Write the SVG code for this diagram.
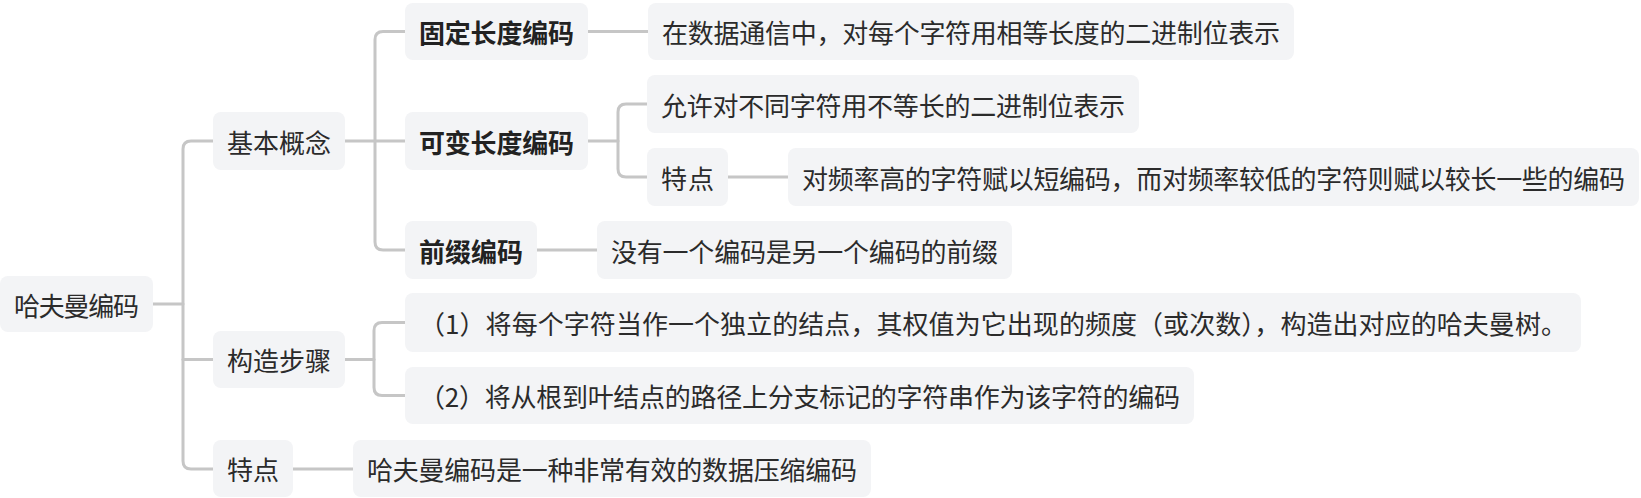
<svg xmlns="http://www.w3.org/2000/svg" width="1641" height="498" viewBox="0 0 1641 498">
<style>
.box{fill:#f3f4f6;}
.t{font-family:"Noto Sans CJK SC","Noto Sans",sans-serif;font-size:26px;fill:#2b2b2b;dominant-baseline:central;}
.b{font-weight:bold;fill:#222;}
.c{fill:none;stroke:#c6c6c6;stroke-width:3;stroke-linecap:round;stroke-linejoin:round;}
</style>
<rect width="1641" height="498" fill="#ffffff"/>
<g id="connectors">
<path class="c" d="M153,304 H183"/>
<path class="c" d="M213,141 H191 Q183,141 183,149 V461 Q183,469 191,469 H213"/>
<path class="c" d="M183,359.5 H213"/>
<path class="c" d="M345,141 H405"/>
<path class="c" d="M405,31.5 H383 Q375,31.5 375,39.5 V242 Q375,250 383,250 H405"/>
<path class="c" d="M345,359.5 H374"/>
<path class="c" d="M405,322.5 H382 Q374,322.5 374,330.5 V387.5 Q374,395.5 382,395.5 H405"/>
<path class="c" d="M293,469 H353"/>
<path class="c" d="M588,31.5 H648"/>
<path class="c" d="M588,141 H618"/>
<path class="c" d="M647,104 H626 Q618,104 618,112 V169 Q618,177 626,177 H647"/>
<path class="c" d="M728,177 H788"/>
<path class="c" d="M537,250 H597"/>
</g>
<g id="root"><rect class="box" x="0" y="276" width="153" height="56" rx="8"/><text class="t" x="14" y="304" textLength="125" lengthAdjust="spacing">哈夫曼编码</text></g>
<g id="n-jiben"><rect class="box" x="213" y="112" width="132" height="58" rx="8"/><text class="t" x="227" y="141" textLength="104" lengthAdjust="spacing">基本概念</text></g>
<g id="n-gouzao"><rect class="box" x="213" y="331" width="132" height="57" rx="8"/><text class="t" x="227" y="359.5" textLength="104" lengthAdjust="spacing">构造步骤</text></g>
<g id="n-tedian1"><rect class="box" x="213" y="440" width="80" height="57" rx="8"/><text class="t" x="227" y="468.5" textLength="52" lengthAdjust="spacing">特点</text></g>
<g id="n-guding"><rect class="box" x="405" y="3" width="183" height="57" rx="8"/><text class="t b" x="419" y="31.5" textLength="155" lengthAdjust="spacing">固定长度编码</text></g>
<g id="n-kebian"><rect class="box" x="405" y="112" width="183" height="58" rx="8"/><text class="t b" x="419" y="141" textLength="155" lengthAdjust="spacing">可变长度编码</text></g>
<g id="n-qianzhui"><rect class="box" x="405" y="221" width="132" height="58" rx="8"/><text class="t b" x="419" y="250" textLength="104" lengthAdjust="spacing">前缀编码</text></g>
<g id="n-guding-d"><rect class="box" x="648" y="3" width="646" height="57" rx="8"/><text class="t" x="662" y="31.5" textLength="618" lengthAdjust="spacing">在数据通信中，对每个字符用相等长度的二进制位表示</text></g>
<g id="n-kebian-d"><rect class="box" x="647" y="75" width="492" height="58" rx="8"/><text class="t" x="661" y="104" textLength="464" lengthAdjust="spacing">允许对不同字符用不等长的二进制位表示</text></g>
<g id="n-tedian2"><rect class="box" x="647" y="148" width="81" height="58" rx="8"/><text class="t" x="661" y="177" textLength="53" lengthAdjust="spacing">特点</text></g>
<g id="n-tedian2-d"><rect class="box" x="788" y="148" width="851" height="58" rx="8"/><text class="t" x="802" y="177" textLength="823" lengthAdjust="spacing">对频率高的字符赋以短编码，而对频率较低的字符则赋以较长一些的编码</text></g>
<g id="n-qianzhui-d"><rect class="box" x="597" y="221" width="415" height="58" rx="8"/><text class="t" x="611" y="250" textLength="387" lengthAdjust="spacing">没有一个编码是另一个编码的前缀</text></g>
<g id="n-step1"><rect class="box" x="405" y="293" width="1176" height="59" rx="8"/><text class="t" x="419" y="322.5" textLength="1148" lengthAdjust="spacing">（1）将每个字符当作一个独立的结点，其权值为它出现的频度（或次数），构造出对应的哈夫曼树。</text></g>
<g id="n-step2"><rect class="box" x="405" y="367" width="789" height="57" rx="8"/><text class="t" x="419" y="395.5" textLength="761" lengthAdjust="spacing">（2）将从根到叶结点的路径上分支标记的字符串作为该字符的编码</text></g>
<g id="n-tedian1-d"><rect class="box" x="353" y="440" width="518" height="57" rx="8"/><text class="t" x="367" y="468.5" textLength="490" lengthAdjust="spacing">哈夫曼编码是一种非常有效的数据压缩编码</text></g>
</svg>
